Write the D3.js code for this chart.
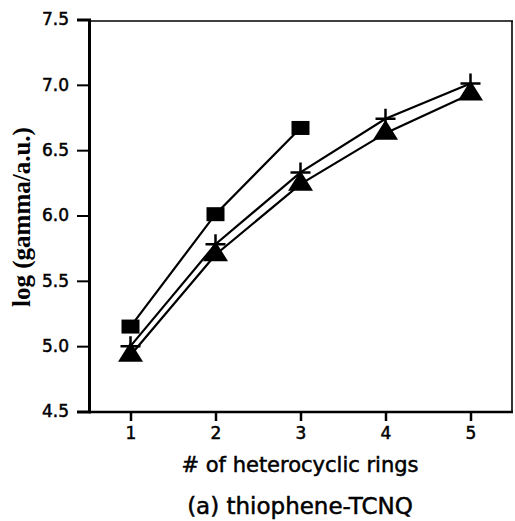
<!DOCTYPE html>
<html><head><meta charset="utf-8">
<script src="https://cdn.jsdelivr.net/npm/d3@7"></script>
<style>body{margin:0;background:#fff}svg{display:block}</style>
</head><body>
<svg id="c" width="515" height="521"></svg>
<script>
const rings = [1, 2, 3, 4, 5];
const squareVals = [5.15, 6.01, 6.67];
const plusVals = [5.00, 5.78, 6.33, 6.74, 7.01];
const triangleVals = [4.93, 5.70, 6.24, 6.63, 6.93];
const yTicks = [4.5, 5.0, 5.5, 6.0, 6.5, 7.0, 7.5];
const xTicks = [1, 2, 3, 4, 5];
const xTitle = "# of heterocyclic rings";
const yTitle = "log (gamma/a.u.)";
const caption = "(a) thiophene-TCNQ";

const svg = d3.select("#c");
const L = 89, R = 513, T = 20, B = 412;
const x = d3.scaleLinear().domain([0.5, 5.5]).range([88, 513]);
const y = d3.scaleLinear().domain([4.5, 7.5]).range([411.5, 19.5]);
const sans = "'DejaVu Sans', sans-serif";

// frame top/right
svg.append("line").attr("x1", L).attr("x2", R).attr("y1", 21).attr("y2", 21).attr("stroke", "#000").attr("stroke-width", 1.6);
svg.append("line").attr("x1", R - 1).attr("x2", R - 1).attr("y1", 21).attr("y2", B).attr("stroke", "#000").attr("stroke-width", 1.6);

// axes
const yAxis = d3.axisLeft(y).tickValues(yTicks).tickFormat(d3.format(".1f")).tickSize(12).tickPadding(8);
const gy = svg.append("g").attr("transform", `translate(${L},0)`).call(yAxis);
gy.select(".domain").attr("stroke-width", 3);
gy.selectAll(".tick line").attr("stroke-width", 2);
gy.selectAll("text").attr("font-family", sans).attr("font-size", 17).attr("fill", "#000")
  .attr("stroke", "#000").attr("stroke-width", 0.5);

const xAxis = d3.axisBottom(x).tickValues(xTicks).tickFormat(d3.format("d")).tickSize(9).tickPadding(6);
const gx = svg.append("g").attr("transform", `translate(0,${B})`).call(xAxis);
gx.select(".domain").attr("stroke-width", 2.5).attr("d", `M${L},0H${R}`);
gx.selectAll(".tick line").attr("stroke-width", 2.5);
gx.selectAll("text").attr("font-family", sans).attr("font-size", 17).attr("fill", "#000")
  .attr("stroke", "#000").attr("stroke-width", 0.5);

// lines
const line = d3.line().x((d, i) => x(rings[i])).y(d => y(d));
[squareVals, plusVals, triangleVals].forEach(vals => {
  svg.append("path").attr("d", line(vals)).attr("fill", "none").attr("stroke", "#000").attr("stroke-width", 2.2);
});

// markers
svg.append("g").selectAll("rect").data(squareVals).join("rect")
  .attr("x", (d, i) => x(rings[i]) - 9).attr("y", d => y(d) - 7)
  .attr("width", 18).attr("height", 14).attr("fill", "#000");

svg.append("g").selectAll("path").data(triangleVals).join("path")
  .attr("transform", (d, i) => `translate(${x(rings[i])},${y(d)})`)
  .attr("d", "M0,-13.5L12.5,6.5L-12.5,6.5Z").attr("fill", "#000");

const gp = svg.append("g").attr("stroke", "#000").attr("stroke-width", 2.5);
gp.selectAll("path").data(plusVals).join("path")
  .attr("transform", (d, i) => `translate(${x(rings[i])},${y(d)})`)
  .attr("d", "M-10,0H10M0,-10V10");

// titles
svg.append("text").attr("x", 300).attr("y", 472).attr("text-anchor", "middle")
  .attr("font-family", sans).attr("font-size", 21).attr("stroke", "#000").attr("stroke-width", 0.5).text(xTitle);
svg.append("text").attr("transform", "translate(30,217) rotate(-90)").attr("text-anchor", "middle")
  .attr("font-family", "'Liberation Serif', serif").attr("font-weight", "bold").attr("font-size", 25).text(yTitle);
svg.append("text").attr("x", 300).attr("y", 514).attr("text-anchor", "middle")
  .attr("font-family", sans).attr("font-size", 23).attr("stroke", "#000").attr("stroke-width", 0.5).text(caption);
</script>
</body></html>
